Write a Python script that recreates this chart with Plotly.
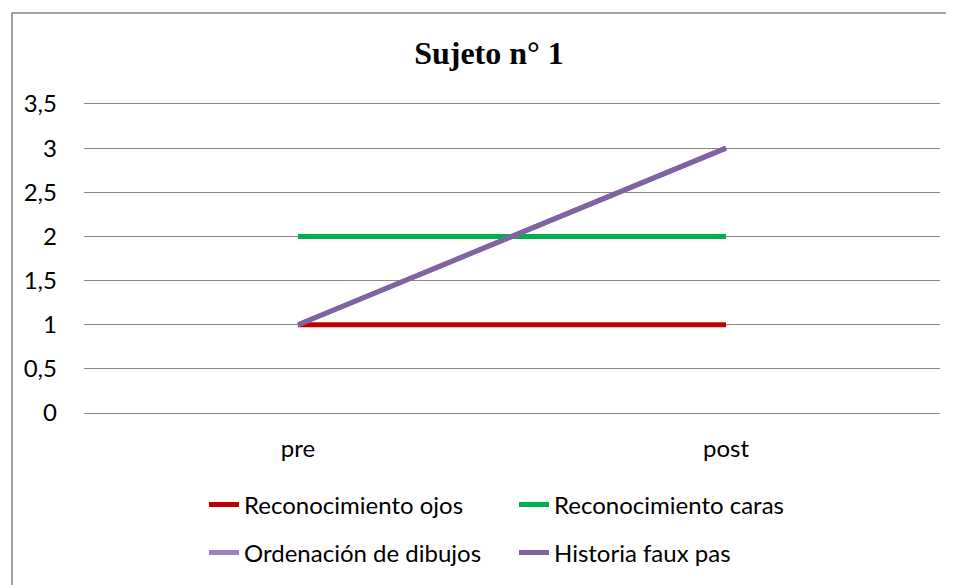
import plotly.graph_objects as go

categories = ["pre", "post"]
reconocimiento_ojos = [1, 1]
reconocimiento_caras = [2, 2]
ordenacion_dibujos = [1, 3]
historia_faux_pas = [1, 3]
y_ticks = [0, 0.5, 1, 1.5, 2, 2.5, 3, 3.5]
y_tick_labels = ["0", "0,5", "1", "1,5", "2", "2,5", "3", "3,5"]

W, H = 954, 585
OFF = 8  # page body margin
# desired page-pixel plot area
PL, PR, PT, PB = 84, 940, 104, 413
L, T = PL - OFF, PT - OFF
R, B = W - (PR - OFF), H - (PB - OFF)
pw, ph = W - L - R, H - T - B

def px_x(x):  # page px -> paper
    return (x - OFF - L) / pw

def px_y(y):
    return (PB - y) / ph

font_main = "Lato"
fsize = 24
fig = go.Figure()
series = [
    ("Reconocimiento ojos", reconocimiento_ojos, "#C00000", "legend"),
    ("Reconocimiento caras", reconocimiento_caras, "#00B050", "legend"),
    ("Ordenación de dibujos", ordenacion_dibujos, "#9882BF", "legend2"),
    ("Historia faux pas", historia_faux_pas, "#8064A2", "legend2"),
]
for name, vals, color, lg in series:
    fig.add_trace(go.Scatter(
        x=categories, y=vals, name=name, mode="lines",
        line=dict(color=color, width=5), legend=lg,
    ))

legend_common = dict(
    orientation="h", xanchor="left", yanchor="middle",
    font=dict(family=font_main, size=fsize, color="#000000"),
    entrywidth=265, entrywidthmode="pixels",
    bgcolor="rgba(0,0,0,0)", itemclick=False,
)

fig.update_layout(
    width=W, height=H,
    margin=dict(l=L, r=R, t=T, b=B),
    paper_bgcolor="white", plot_bgcolor="white",
    title=dict(
        text="<b>Sujeto n° 1</b>",
        font=dict(family="Liberation Serif", size=32, color="#000000"),
        x=px_x(489), xref="paper", xanchor="center",
        y=1 - (53 - OFF) / H, yref="container", yanchor="middle",
    ),
    xaxis=dict(
        type="category", range=[-0.5, 1.5],
        showgrid=False, showline=True, mirror=True,
        linecolor="#868686", linewidth=1, zeroline=False,
        ticks="", ticklabelstandoff=14,
        tickfont=dict(family=font_main, size=fsize, color="#000000"),
    ),
    yaxis=dict(
        range=[0, 3.5], tickvals=y_ticks, ticktext=y_tick_labels,
        showgrid=True, gridcolor="#868686", gridwidth=1,
        zeroline=False, showline=False, ticks="",
        ticklabelstandoff=26,
        tickfont=dict(family=font_main, size=fsize, color="#000000"),
    ),
    legend=dict(x=px_x(204), y=px_y(505), **legend_common),
    legend2=dict(x=px_x(204), y=px_y(553), **legend_common),
    showlegend=True,
)

fig.add_shape(
    type="rect", xref="paper", yref="paper",
    x0=px_x(12), x1=px_x(990), y0=px_y(620), y1=px_y(13),
    line=dict(color="#868686", width=1.5), fillcolor="rgba(0,0,0,0)",
    layer="below",
)

fig.write_html("out.html")
